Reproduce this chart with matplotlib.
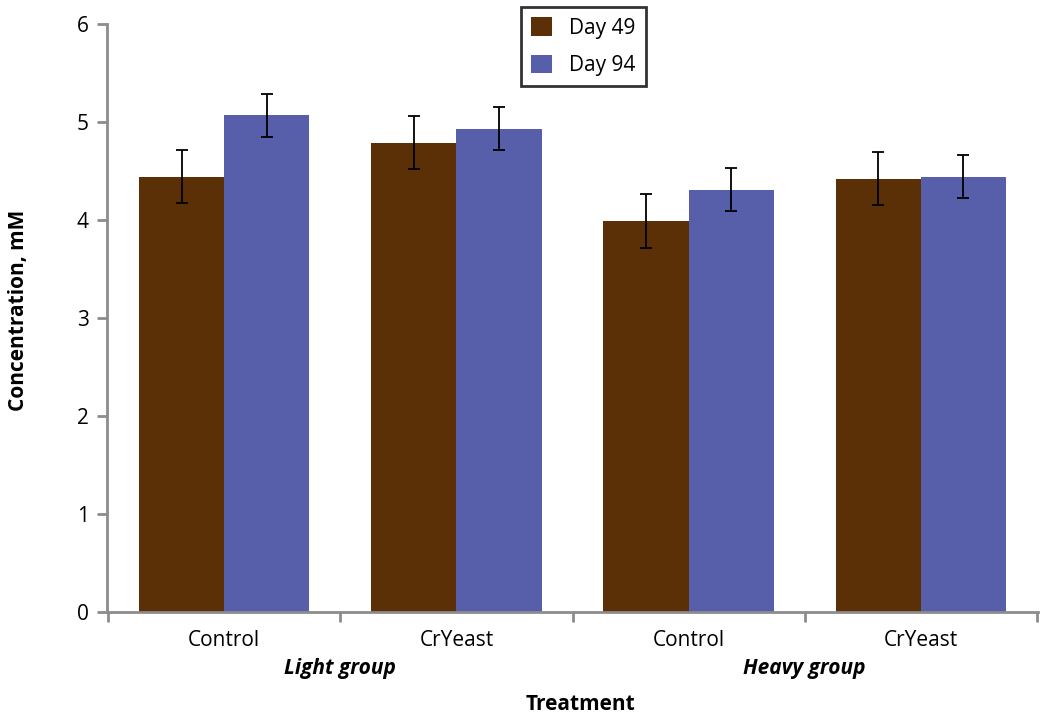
import matplotlib.pyplot as plt
import numpy as np

plt.rcParams['font.family'] = ['Open Sans', 'DejaVu Sans']

categories = ["Control", "CrYeast", "Control", "CrYeast"]
groups = ["Light group", "Heavy group"]
series_names = ["Day 49", "Day 94"]
day49 = [4.44, 4.79, 3.99, 4.42]
day49_err = [0.27, 0.27, 0.28, 0.27]
day94 = [5.07, 4.93, 4.31, 4.44]
day94_err = [0.22, 0.22, 0.22, 0.22]
colors = ['#5c3006', '#585faa']

fig = plt.figure(figsize=(10.43, 7.17), dpi=100)
ax = fig.add_axes([107/1043, 1 - 612/717, (1038 - 107)/1043, (612 - 24)/717])

x = np.arange(len(categories))
w = 0.367
ax.bar(x - w/2, day49, w, color=colors[0], label=series_names[0], zorder=2)
ax.bar(x + w/2, day94, w, color=colors[1], label=series_names[1], zorder=2)
ax.errorbar(x - w/2, day49, yerr=day49_err, fmt='none', ecolor='black',
            elinewidth=1.3, capsize=4, capthick=1.3, zorder=3)
ax.errorbar(x + w/2, day94, yerr=day94_err, fmt='none', ecolor='black',
            elinewidth=1.3, capsize=4, capthick=1.3, zorder=3)

ax.set_xlim(-0.505, 3.505)
ax.set_ylim(0, 6)
ax.set_yticks(range(7))

for s in ['top', 'right']:
    ax.spines[s].set_visible(False)
for s in ['left', 'bottom']:
    ax.spines[s].set_color('#8c8c8c')
    ax.spines[s].set_linewidth(2)

ax.tick_params(axis='y', length=7, width=2, color='#8c8c8c', labelsize=15, pad=6)
# boundary ticks on x axis, labels centred between them
ax.set_xticks([-0.5, 0.5, 1.5, 2.5, 3.5])
ax.set_xticklabels([])
ax.tick_params(axis='x', length=7, width=2, color='#8c8c8c')
for i, c in enumerate(categories):
    ax.text(x[i], -0.18, c, ha='center', va='top', fontsize=15)
for j, g in enumerate(groups):
    ax.text(0.5 + 2*j, -0.47, g, ha='center', va='top', fontsize=15,
            fontweight='bold', fontstyle='italic')

fig.text(19/1043, 1 - 310/717, "Concentration, mM", rotation=90,
         ha='center', va='center', fontsize=15, fontweight='bold')
fig.text(580/1043, 1 - 704/717, "Treatment", ha='center', va='center',
         fontsize=15, fontweight='bold')

leg = fig.legend(loc='upper left', bbox_to_anchor=(521/1043, 1 - 7/717),
                 fontsize=15, frameon=True, fancybox=False, handlelength=1.0,
                 handleheight=1.0, borderpad=0.5, labelspacing=0.75,
                 handletextpad=0.8, borderaxespad=0)
leg.get_frame().set_edgecolor('black')
leg.get_frame().set_linewidth(2)

fig.savefig("out.png", dpi=100)
